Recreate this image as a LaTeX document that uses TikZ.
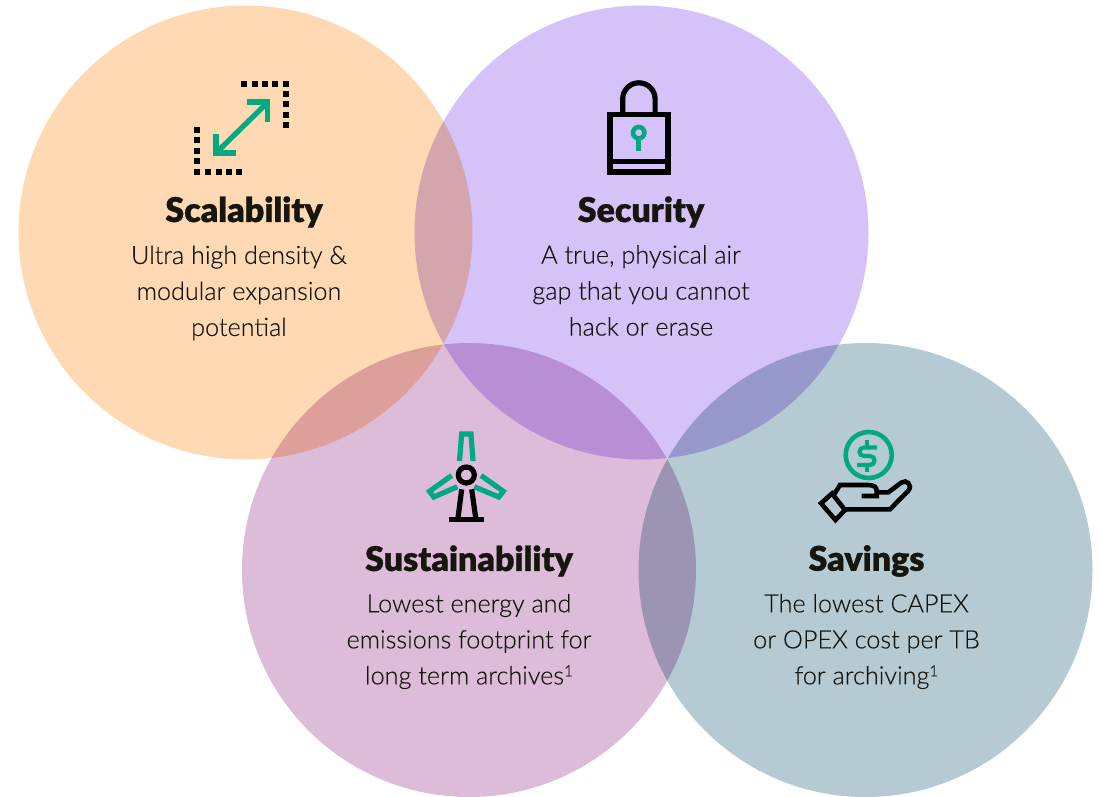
\documentclass[tikz,border=0pt]{standalone}
\usepackage{fontspec}
\setmainfont[FakeBold=0.25]{Lato Light}
\newfontfamily\titlefont[FakeBold=0.9]{Lato Black}
\definecolor{hpegreen}{HTML}{01A982}
\definecolor{iconblack}{HTML}{000000}
\definecolor{inkblack}{HTML}{16160E}
\definecolor{corange}{HTML}{FFD9B3}
\definecolor{cpurple}{HTML}{D5C2F9}
\definecolor{cpink}{HTML}{DDBCDA}
\definecolor{cteal}{HTML}{B5CAD2}
\tikzset{
  venn/.style={circle,minimum size=454pt,inner sep=0pt,outer sep=0pt},
  titletext/.style={font=\titlefont\fontsize{34}{38}\selectfont,text=inkblack,anchor=center,inner sep=0pt},
  bodytext/.style={font=\fontsize{25.2}{36}\selectfont,text=inkblack,anchor=center,align=center,inner sep=0pt},
  gline/.style={draw=hpegreen,line width=5.2pt},
  kline/.style={draw=iconblack,line width=5.2pt},
  handline/.style={draw=iconblack,line width=4.6pt,line join=miter}
}
\newcommand{\supone}{\raisebox{8pt}{\fontsize{15.5}{15.5}\selectfont 1}}
\begin{document}
\begin{tikzpicture}[x=1pt,y=-1pt]
\useasboundingbox (0,0) rectangle (1102,796);
\fill[white] (0,0) rectangle (1102,796);
\begin{scope}[blend group=multiply]
\node[venn,fill=corange] (orange) at (245.5,232.5) {};
\node[venn,fill=cpurple] (purple) at (641.5,232.5) {};
\node[venn,fill=cpink] (pink) at (469,570) {};
\node[venn,fill=cteal] (teal) at (865.5,570) {};
\end{scope}
% scalability icon
\foreach \x/\y in {244/84,255/84,265/84,275/84,286/84,286/94,286/104,286/115,286/125,
  197/130,197/140,197/151,197/161,197/172,208/172,219/172,229/172,239/172}
  \fill[iconblack] (\x-3,\y-3) rectangle (\x+3,\y+3);
\draw[gline,miter limit=10] (247,102) -- (267.5,102) -- (267.5,122);
\draw[gline,miter limit=10] (216,134) -- (216,153) -- (236,153);
\draw[gline] (218,151) -- (266,104);
% lock icon
\draw[kline] (610,114.5) rectangle (668,172);
\draw[kline] (610,161.5) -- (668,161.5);
\draw[kline] (622.7,114) -- (622.7,99) arc[start angle=180,end angle=360,radius=16.2] -- (655.1,114);
\draw[gline,line width=4.6pt] (638.7,132.7) circle[radius=5.7];
\draw[gline] (638.7,138) -- (638.7,151);
% windmill icon
\draw[gline,line join=miter] (459.5,461) -- (461.7,434) -- (471,434) -- (473,461);
\draw[gline,line join=miter] (451.7,475.5) -- (429.5,491.3) -- (433.8,497) -- (457.3,486.7);
\draw[gline,line join=miter] (481,475.5) -- (503.3,491.3) -- (498.8,497) -- (474.3,486.7);
\draw[kline] (466.3,475) circle[radius=8];
\draw[kline] (461.7,489.3) -- (458,518);
\draw[kline] (471.7,489.3) -- (475.7,518);
\draw[kline] (449,519.5) -- (484,519.5);
% savings icon
\draw[gline,line width=4.6pt] (868.7,455) circle[radius=23];
\draw[gline,line width=4.2pt] (877,447.5) -- (864,447.5) .. controls (858,447.5) and (858,456) .. (864,456) -- (870,456) .. controls (876,456) and (876,465) .. (870,465) -- (857,465);
\draw[gline,line width=4.2pt] (867,440) -- (867,448) (867,465) -- (867,472);
\draw[handline] (821,503.3) -- (832,493.5) -- (845,510) -- (835.5,520) -- cycle;
\draw[handline] (834.3,494) -- (840,485) -- (868,485) .. controls (874,485) and (876.7,487) .. (876.7,491) -- (876.7,496) -- (861.7,496);
\draw[handline] (876.7,492.3) -- (888.3,492.3) -- (901.5,482.5) .. controls (906,479) and (913,485) .. (908.5,490.5) -- (890,509.3) -- (845,509.3);
% text
\node[titletext] (t1) at (244,212) {Scalability};
\node[bodytext] (b1) at (239,293) {Ultra high density \&\\modular expansion\\potential};
\node[titletext] (t2) at (641,212) {Security};
\node[bodytext] (b2) at (641,290.5) {A true, physical air\\gap that you cannot\\hack or erase};
\node[titletext] (t3) at (469,561) {Sustainability};
\node[bodytext] (b3) at (469,641.5) {Lowest energy and\\emissions footprint for\\long term archives\supone};
\node[titletext] (t4) at (866.5,561) {Savings};
\node[bodytext] (b4) at (866.5,641.5) {The lowest CAPEX\\or OPEX cost per TB\\for archiving\supone};
\end{tikzpicture}
\end{document}
